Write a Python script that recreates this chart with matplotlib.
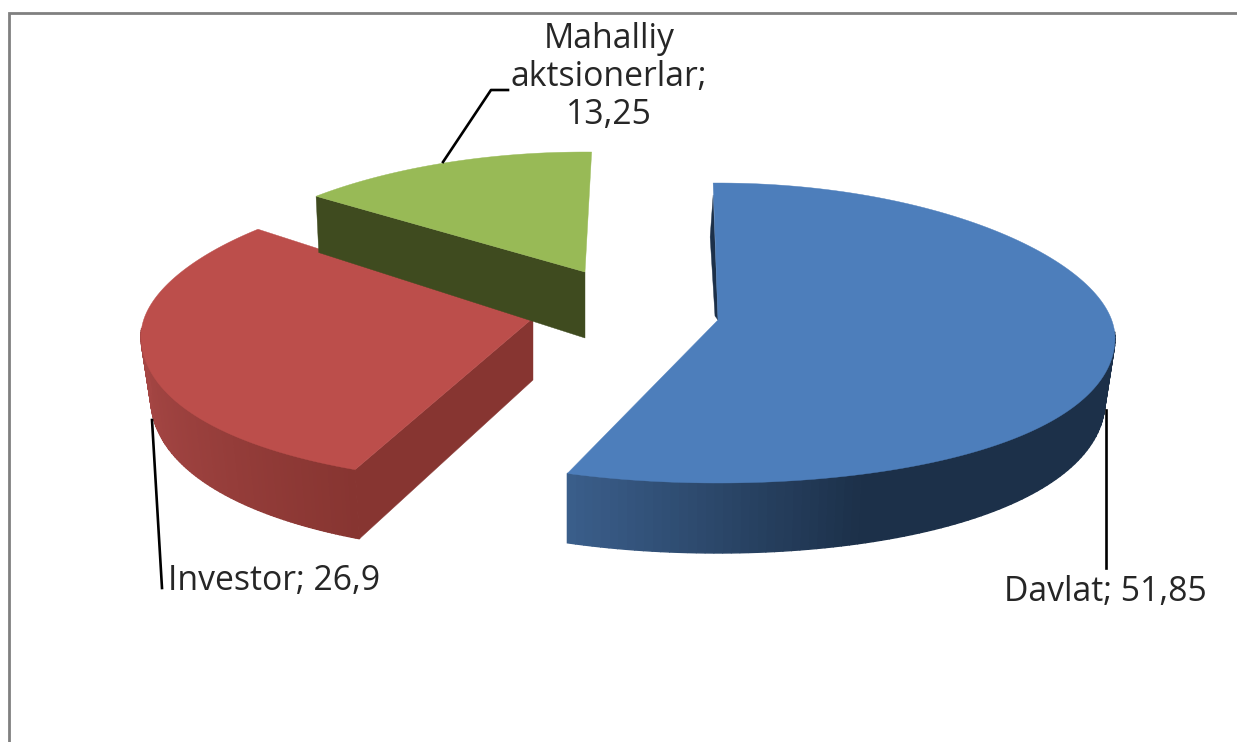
import numpy as np
import matplotlib.pyplot as plt
from matplotlib.patches import Polygon
from matplotlib.colors import to_rgb

# pie data
names = ['Davlat', 'Investor', 'Mahalliy\naktsionerlar']
values = [51.85, 26.9, 13.25]
seps = ['; ', '; ', ';\n']

# share of the pie, values add up to 92 so use the sum
shares = np.array(values) / sum(values) * 360
ends = np.cumsum(shares)
starts = ends - shares

# small corrections for the 3d view
start_shift = [-0.7, 4.1, 6.8]
end_shift = [-0.6, 7.3, 1.0]

# slice placement in pixels
apex_x = [718, 533, 585]
apex_y = [320, 318, 272]
radius_x = [397, 392, 380]
radius_up = [137, 137, 120]
radius_down = [163, 166, 150]
sag = [18, 18, 18]
apex_depth = [64, 62, 66]
pull = [0.975, 0.975, 0.99]

top_colors = ['#4d7ebb', '#bc4e4b', '#98ba56']
wall_dark = ['#1c3049', '#873531', '#3f4b1f']
wall_light = ['#3b5f8c', '#a54644', '#3f4b1f']

fig = plt.figure(figsize=(12.37, 7.42), dpi=100)
ax = fig.add_axes([0, 0, 1, 1])
ax.set_xlim(0, 1237)
ax.set_ylim(742, 0)
ax.axis('off')


def rim(i, deg):
    t = np.radians(deg)
    b = np.where(np.cos(t) > 0, radius_up[i], radius_down[i])
    x = apex_x[i] + radius_x[i] * np.sin(t)
    y = apex_y[i] - b * np.cos(t) + sag[i] * np.sin(t) ** 2
    return x, y


def lower(i, x, y, deg):
    # bottom edge: slightly pulled in and less deep towards the back
    d = 62 - 8 * np.cos(np.radians(deg))
    p = pull[i]
    if i == 0:
        # left end of the big slice is not pulled in
        p = np.where(x < apex_x[i], 1.0, p)
    return apex_x[i] + (x - apex_x[i]) * p, y + d


def mix(c1, c2, f):
    return tuple((1 - f) * np.array(to_rgb(c1)) + f * np.array(to_rgb(c2)))


def draw_slice(i):
    a0 = starts[i] + start_shift[i]
    a1 = ends[i] + end_shift[i]
    deg = np.linspace(a0, a1, 160)
    x, y = rim(i, deg)
    xb, yb = lower(i, x, y, deg)
    ax0, ay0 = apex_x[i], apex_y[i]
    ay1 = ay0 + apex_depth[i]

    # flat wall from the centre, the other one of each slice is hidden
    sx, sy = rim(i, a0)
    sxb, syb = lower(i, sx, sy, a0)
    if i == 0:
        # only a thin dark strip shows along the blue edge
        wall = [(ax0, ay0), (sx, sy + 12), (sxb - 3, syb), (ax0 - 3, ay0 - 4)]
    else:
        wall = [(ax0, ay0), (sx, sy), (sxb, syb), (ax0, ay1)]
    ax.add_patch(Polygon(wall, fc=wall_dark[i], ec=wall_dark[i], lw=0.3, zorder=2 + i * 3))

    # round outer wall, only the front part shows
    span = x.max() - x.min()
    for k in range(len(deg) - 1):
        if np.cos(np.radians(deg[k])) > 0.05:
            continue
        if i == 0:
            f = np.clip((x[k] - 567) / 300, 0, 1)
            col = mix(wall_light[i], wall_dark[i], f)
        else:
            f = np.clip((x[k] - x.min()) / span, 0, 1)
            col = mix(wall_light[i], wall_dark[i], f ** 0.7)
        ax.add_patch(Polygon([(x[k], y[k]), (x[k + 1], y[k + 1]), (xb[k + 1], yb[k + 1]), (xb[k], yb[k])],
                             fc=col, ec=col, lw=1.0, zorder=3 + i * 3))

    # top face
    pts = [(ax0, ay0)] + list(zip(x, y))
    ax.add_patch(Polygon(pts, fc=top_colors[i], ec=top_colors[i], lw=0.3, zorder=4 + i * 3))


# back slices first
for i in [2, 1, 0]:
    draw_slice(i)

# frame of the pasted chart
ax.plot([8.5, 8.5, 1237], [742, 12.5, 12.5], color='#808080', lw=2, solid_joinstyle='miter', zorder=1)

# leader lines
ax.plot([443, 491, 508], [162, 90, 90], color='black', lw=1.9, zorder=20)
ax.plot([152, 162], [420, 588], color='black', lw=1.9, zorder=20)
ax.plot([1106, 1106], [410, 568], color='black', lw=1.9, zorder=20)

# labels
label_x = [1105, 274, 609]
label_y = [592, 581, 77]
for i in range(3):
    ax.text(label_x[i], label_y[i], names[i] + seps[i] + str(values[i]).replace('.', ','),
            family='Open Sans', fontsize=24.3, color='#262626', ha='center', va='center',
            linespacing=1.15, zorder=21)

plt.savefig('out.png', dpi=100)
